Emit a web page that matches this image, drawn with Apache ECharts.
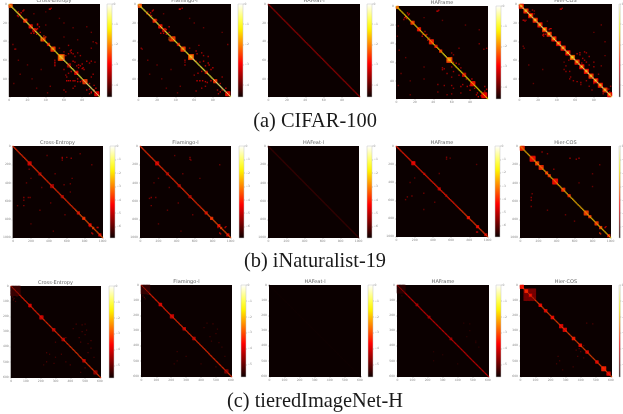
<!DOCTYPE html>
<html><head><meta charset="utf-8">
<script src="https://cdn.jsdelivr.net/npm/echarts@6/dist/echarts.min.js"></script>
<style>html,body{margin:0;padding:0;background:#fff}#c{width:623px;height:414px}</style>
</head><body><div id="c"></div>
<script>
const methodTitles = ['Cross-Entropy','Flamingo-l','HAFeat-l','HAFrame','Hier-COS'];
const captions = ['(a) CIFAR-100','(b) iNaturalist-19','(c) tieredImageNet-H'];
const xTicksA = [0,20,40,60,80], xTicksB = [0,200,400,600,800,1000], xTicksC = [0,100,200,300,400,500,600];
const barTicksA = [0,-1,-2,-3,-4], barTicksB = [0,-1,-2,-3,-4,-5,-6], barTicksC = [0,-1,-2,-3,-4,-5];

// [first, last, log value] runs along the diagonal
const ceA_diag = [[0,14,-1.0],[15,30,-0.9],[31,55,-1.1],[56,60,-0.5],[61,80,-0.9],[81,99,-0.6]];
// [first, last, log value] square blocks on the diagonal
const ceA_blocks = [[0,3,-2.4],[16,19,-2.6],[22,25,-2.8],[26,29,-3.2],[36,39,-2.5],[42,44,-3.0],[46,50,-2.6],[47,49,-2.1],[54,60,-2.4],[55,59,-1.8],[64,67,-3.4],[72,75,-3.0],[81,85,-2.5],[94,98,-3.0]];
// [row, col, log value] single cells
const ceA_cells = [[5,44,-3.1],[5,45,-3.0],[4,46,-3.4],[8,10,-3.0],[9,13,-2.9],[10,11,-3.1],[11,12,-2.8],[12,9,-3.0],[13,10,-3.2],[7,15,-3.0],[6,16,-3.2],[14,13,-3.0],[31,27,-2.9],[32,30,-2.8],[33,33,-3.0],[31,24,-3.0],[30,34,-3.0],[26,31,-3.0],[27,30,-2.8],[24,33,-3.1],[21,31,-3.0],[22,31,-3.0],[36,35,-2.1],[37,35,-2.0],[38,35,-2.0],[39,35,-2.2],[34,38,-2.6],[36,39,-2.5],[35,40,-2.6],[48,6,-3.4],[48,7,-3.5],[43,4,-3.6],[44,65,-3.3],[53,65,-3.2],[53,70,-3.2],[55,62,-3.2],[52,75,-3.4],[47,55,-3.4],[50,67,-3.2],[51,60,-3.3],[49,68,-3.3],[52,68,-3.2],[56,72,-3.3],[55,78,-3.3],[47,90,-3.5],[40,92,-3.6],[41,95,-3.5],[42,96,-3.6],[62,50,-3.2],[63,50,-3.3],[60,50,-3.3],[65,50,-3.2],[66,50,-3.3],[61,70,-3.0],[62,72,-3.0],[61,85,-3.2],[61,90,-3.2],[63,88,-3.2],[62,94,-3.3],[64,80,-3.1],[65,76,-3.0],[66,78,-3.1],[66,74,-3.0],[68,76,-3.0],[68,81,-3.1],[69,80,-3.0],[70,82,-3.1],[70,60,-3.3],[72,68,-3.1],[74,65,-3.3],[76,62,-3.3],[78,63,-3.4],[82,63,-3.0],[82,65,-2.9],[82,67,-3.0],[82,70,-2.9],[82,72,-2.9],[83,75,-3.0],[82,80,-2.8],[83,78,-2.9],[80,75,-3.0],[78,90,-3.3],[75,92,-3.3],[85,88,-3.1],[88,72,-3.3],[90,70,-3.3],[92,60,-3.3],[94,62,-3.4],[92,85,-3.0],[91,88,-3.1],[94,90,-3.0],[95,90,-3.0],[96,88,-3.1],[92,93,-2.9],[90,95,-3.0],[87,93,-3.1],[17,20,-3.8],[10,27,-3.8],[8,40,-3.9],[20,60,-3.8],[24,85,-3.8],[25,70,-3.8],[30,90,-3.7],[35,60,-3.8],[38,75,-3.8],[60,10,-3.7],[65,20,-3.8],[70,35,-3.8],[75,12,-3.8],[80,25,-3.7],[85,5,-3.8],[90,30,-3.8],[95,42,-3.7],[88,45,-3.6],[15,55,-3.8],[22,40,-3.8]];

const flA_diag = [[0,14,-1.0],[15,30,-0.9],[31,55,-1.0],[56,60,-0.6],[61,80,-0.9],[81,99,-0.6]];
const flA_blocks = [[0,3,-2.4],[16,19,-2.7],[22,25,-2.8],[26,29,-3.3],[35,39,-2.5],[42,44,-3.1],[46,50,-2.6],[47,49,-2.1],[54,59,-2.4],[55,58,-1.8],[72,74,-3.2],[81,84,-2.6],[94,98,-2.8]];
const flA_cells = [[5,44,-3.1],[5,45,-3.0],[4,47,-3.3],[8,10,-3.1],[9,13,-2.9],[10,9,-3.0],[11,12,-2.9],[12,14,-3.0],[7,15,-3.0],[6,16,-3.2],[31,27,-2.9],[32,30,-2.9],[31,24,-3.0],[30,33,-3.0],[27,30,-2.9],[24,33,-3.1],[36,33,-2.4],[38,33,-2.3],[39,34,-2.4],[48,4,-3.4],[47,3,-3.5],[44,65,-3.4],[50,62,-3.3],[53,63,-3.2],[52,68,-3.3],[55,70,-3.3],[47,55,-3.5],[56,75,-3.3],[43,96,-3.6],[60,50,-3.3],[62,50,-3.3],[65,50,-3.3],[61,62,-3.0],[62,66,-3.0],[61,70,-3.1],[63,75,-3.1],[65,76,-3.1],[66,72,-3.0],[68,80,-3.1],[70,78,-3.1],[72,68,-3.1],[74,64,-3.3],[76,60,-3.3],[82,63,-3.0],[82,66,-3.0],[82,69,-3.0],[83,72,-3.0],[82,78,-2.9],[84,74,-3.2],[78,90,-3.4],[85,88,-3.1],[88,72,-3.3],[90,68,-3.3],[93,62,-3.4],[92,85,-3.1],[92,90,-2.9],[94,88,-3.0],[96,86,-3.2],[90,94,-3.0],[17,20,-3.8],[10,27,-3.8],[20,60,-3.8],[25,70,-3.8],[30,90,-3.8],[60,10,-3.7],[65,20,-3.8],[70,35,-3.8],[75,12,-3.8],[80,25,-3.7],[90,30,-3.8],[95,42,-3.8],[88,45,-3.7],[15,55,-3.8]];

const hfA_diag = [[0,99,-3.6]];
const hfA_blocks = [];
const hfA_cells = [];

const frA_diag = [[0,20,-1.4],[21,50,-1.5],[51,60,-1.1],[61,99,-1.3]];
const frA_blocks = [[0,2,-2.3],[16,19,-2.6],[23,26,-2.8],[36,40,-2.7],[42,44,-3.0],[47,49,-2.6],[55,60,-2.5],[56,59,-1.9],[72,75,-3.2],[81,85,-2.8],[93,98,-2.9]];
const frA_cells = [[5,44,-3.0],[5,45,-3.0],[4,46,-3.3],[7,12,-3.0],[9,13,-2.9],[11,10,-2.9],[12,9,-2.9],[13,11,-3.0],[14,8,-3.3],[8,14,-3.2],[30,29,-3.0],[31,32,-3.0],[32,28,-3.0],[30,33,-3.1],[27,31,-3.1],[36,34,-2.9],[34,36,-3.1],[47,3,-3.7],[21,2,-3.7],[32,1,-3.7],[52,62,-3.5],[50,60,-3.5],[45,68,-3.6],[46,95,-3.6],[45,98,-3.5],[60,62,-3.1],[61,65,-3.1],[62,68,-3.0],[66,50,-3.2],[67,52,-3.3],[68,50,-3.3],[65,60,-3.2],[70,62,-3.2],[72,55,-3.3],[76,60,-3.4],[68,68,-3.0],[66,70,-3.1],[74,68,-3.2],[75,72,-3.0],[78,76,-3.0],[78,82,-3.1],[85,60,-3.3],[85,52,-3.4],[84,45,-3.5],[86,70,-3.2],[84,72,-3.2],[86,77,-3.1],[85,80,-3.1],[88,62,-3.4],[88,85,-3.0],[90,80,-3.1],[90,90,-2.9],[93,88,-3.0],[95,87,-3.0],[96,92,-2.9],[97,89,-2.9],[94,96,-2.9],[91,96,-3.0],[89,98,-3.1],[86,96,-3.3],[93,70,-3.5],[95,55,-3.6],[94,60,-3.5],[92,45,-3.6],[80,15,-3.8],[78,30,-3.8],[72,5,-3.7],[85,2,-3.7],[95,15,-3.8],[15,50,-3.8],[20,75,-3.8],[25,90,-3.8],[12,30,-3.8],[55,10,-3.8],[65,30,-3.8],[40,90,-3.6]];

const hcA_diag = [[0,99,-0.7]];
const hcA_blocks = [[0,4,-2.8],[5,9,-2.7],[10,14,-2.8],[15,19,-2.7],[20,24,-2.8],[25,29,-2.6],[30,34,-2.7],[35,39,-2.8],[40,44,-2.9],[45,49,-2.8],[50,54,-2.9],[55,59,-2.3],[60,64,-2.8],[65,69,-2.9],[70,74,-2.9],[75,79,-2.7],[80,84,-2.9],[85,89,-2.8],[90,94,-2.7],[95,99,-2.9],
 [1,3,-1.9],[6,8,-1.8],[11,13,-1.8],[16,18,-1.8],[21,23,-1.9],[26,28,-1.7],[31,33,-1.8],[36,38,-1.9],[41,43,-1.9],[46,48,-1.9],[51,53,-1.9],[56,58,-1.4],[61,63,-1.9],[66,68,-1.9],[71,73,-1.9],[76,78,-1.8],[81,83,-1.9],[86,88,-1.9],[91,93,-1.8],[96,98,-1.9]];
const hcA_cells = [[5,44,-3.2],[5,45,-3.1],[4,46,-3.4],[6,14,-3.4],[7,16,-3.5],[17,4,-3.3],[17,5,-3.3],[17,7,-3.4],[18,6,-3.4],[8,11,-3.4],[10,16,-3.5],[26,33,-3.0],[26,34,-3.0],[27,32,-3.1],[32,26,-2.8],[32,28,-2.9],[33,25,-2.9],[34,26,-3.0],[53,62,-3.2],[52,65,-3.2],[51,70,-3.2],[54,65,-3.3],[52,72,-3.3],[58,68,-3.2],[56,75,-3.2],[60,70,-3.2],[62,72,-3.2],[63,67,-3.2],[65,75,-3.4],[62,80,-3.2],[67,80,-3.3],[66,50,-3.2],[70,48,-3.5],[72,50,-3.4],[72,54,-3.4],[60,53,-3.5],[62,48,-3.6],[45,4,-3.7],[47,5,-3.6],[78,55,-3.4],[80,54,-3.3],[82,58,-3.3],[83,62,-3.2],[84,66,-3.3],[82,72,-3.3],[86,66,-3.5],[85,80,-3.3],[88,75,-3.4],[92,78,-3.5],[94,97,-3.2],[91,96,-3.2],[88,98,-3.3],[92,90,-3.3],[96,90,-3.3],[40,92,-3.7],[22,88,-3.7],[30,80,-3.8],[55,92,-3.7],[70,25,-3.8],[85,15,-3.8],[65,10,-3.8],[18,30,-3.8],[75,85,-3.5],[66,88,-3.6]];

const ceB_diag = [[0,700,-3.9],[701,1009,-3.5]];
const ceB_blocks = [[170,200,-4.7],[290,310,-5.2],[420,450,-5.2],[540,560,-5.2],[720,740,-4.7],[780,800,-3.9],[850,870,-4.4],[890,900,-3.8],[960,980,-4.6]];
const ceB_cells = [[120,550,-5.1],[130,550,-5.1],[150,550,-5.2],[120,600,-5.2],[130,655,-5.1],[250,180,-5.4],[560,125,-5.1],[560,190,-5.2],[650,125,-5.2],[560,170,-5.4],[590,120,-5.4],[890,940,-4.6],[890,950,-4.7],[950,880,-4.5],[960,890,-4.6],[880,860,-4.7],[100,380,-5.6],[300,470,-5.6],[350,200,-5.6],[450,320,-5.6],[500,640,-5.6],[620,420,-5.6],[650,50,-5.6],[700,300,-5.6],[750,580,-5.6],[80,750,-5.6],[200,880,-5.6],[350,660,-5.5],[410,640,-5.5],[420,570,-5.5],[400,150,-5.6],[850,200,-5.7],[930,450,-5.7]];

const flB_diag = [[0,700,-3.9],[701,1009,-3.5]];
const flB_blocks = [[170,200,-4.7],[290,310,-5.2],[420,440,-5.2],[540,560,-5.2],[720,740,-4.7],[780,800,-3.9],[860,880,-4.4],[890,900,-3.9],[960,980,-4.6]];
const flB_cells = [[120,550,-5.2],[140,550,-5.2],[150,560,-5.3],[560,125,-5.1],[560,170,-5.4],[570,100,-5.4],[650,125,-5.3],[890,940,-4.7],[880,950,-4.8],[950,880,-4.6],[960,890,-4.7],[890,860,-4.8],[300,470,-5.6],[350,200,-5.6],[450,320,-5.6],[620,420,-5.6],[700,300,-5.6],[750,580,-5.6],[200,880,-5.6],[350,660,-5.6],[400,150,-5.6],[850,200,-5.7],[930,450,-5.7],[100,380,-5.6]];

const hfB_diag = [[0,1009,-6.3]];
const hfB_blocks = [];
const hfB_cells = [];

const frB_diag = [[0,700,-4.1],[701,1009,-3.8]];
const frB_blocks = [[175,205,-4.5],[300,310,-5.1],[460,480,-5.0],[540,550,-5.1],[780,800,-4.2],[880,900,-4.4],[970,990,-4.8]];
const frB_cells = [[120,550,-5.3],[140,550,-5.4],[130,590,-5.5],[560,120,-5.4],[550,170,-5.4],[590,100,-5.5],[950,880,-4.6],[955,890,-4.7],[300,470,-5.7],[350,200,-5.7],[620,420,-5.7],[700,300,-5.7],[520,300,-5.6],[200,880,-5.7],[400,150,-5.7]];

const hcB_diag = [[0,700,-2.4],[701,1009,-2.3]];
const hcB_blocks = [[0,40,-3.9],[110,165,-4.2],[170,205,-3.7],[210,250,-3.9],[280,300,-3.9],[310,330,-4.0],[360,410,-4.2],[465,490,-3.9],[530,550,-4.1],[710,750,-3.7],[760,780,-3.8],[830,860,-3.8],[880,900,-3.7],[970,990,-4.2]];
const hcB_cells = [[130,550,-4.9],[140,620,-5.0],[130,650,-5.0],[60,240,-5.0],[80,300,-5.2],[250,370,-5.2],[560,120,-5.1],[590,120,-5.2],[520,130,-5.4],[660,120,-5.3],[950,880,-3.8],[960,890,-3.9],[890,940,-4.5],[880,950,-4.7],[700,300,-5.5],[750,500,-5.5],[820,600,-5.5],[300,800,-5.6],[400,650,-5.5],[440,800,-5.6],[200,880,-5.6]];

const ceC_diag = [[0,200,-3.4],[201,400,-3.3],[401,607,-3.2]];
const ceC_blocks = [[0,60,-5.35],[120,135,-3.9],[195,215,-4.1],[280,295,-4.2],[345,360,-4.3],[485,500,-4.2],[560,580,-4.6]];
const ceC_cells = [[70,10,-5.0],[80,20,-5.1],[90,15,-5.1],[100,30,-5.1],[65,40,-5.1],[250,440,-5.0],[255,480,-5.0],[250,500,-5.1],[280,420,-5.1],[290,510,-5.0],[300,480,-5.0],[320,500,-5.1],[340,460,-5.0],[360,540,-5.0],[370,470,-5.0],[380,520,-5.1],[440,240,-5.0],[450,260,-5.1],[470,300,-5.1],[500,240,-5.0],[510,290,-5.1],[520,220,-5.2],[410,540,-5.0],[440,520,-5.0],[470,560,-5.1],[520,400,-5.0],[540,500,-4.9],[570,470,-5.1],[450,340,-5.0],[500,370,-5.1],[340,370,-4.8],[370,300,-5.0]];

const flC_diag = [[0,200,-3.4],[201,400,-3.3],[401,607,-3.3]];
const flC_blocks = [[0,55,-5.4],[120,135,-3.9],[195,215,-4.1],[280,295,-4.2],[345,360,-4.3],[560,580,-4.7]];
const flC_cells = [[70,10,-5.1],[80,20,-5.1],[90,25,-5.2],[60,45,-5.2],[250,440,-5.2],[255,480,-5.1],[280,420,-5.2],[290,510,-5.2],[320,500,-5.2],[340,460,-5.2],[370,470,-5.2],[380,520,-5.2],[440,240,-5.2],[470,300,-5.2],[500,240,-5.2],[520,220,-5.2],[410,540,-5.2],[470,560,-5.2],[520,400,-5.2],[540,500,-5.1]];

const hfC_diag = [[0,607,-5.75]];
const hfC_blocks = [];
const hfC_cells = [];

const frC_diag = [[0,607,-4.0]];
const frC_blocks = [[0,50,-5.5],[125,135,-4.4],[205,215,-4.5],[350,360,-4.5]];
const frC_cells = [[70,30,-5.3],[250,440,-5.4],[255,480,-5.4],[300,480,-5.4],[340,460,-5.4],[380,520,-5.4],[440,240,-5.4],[500,240,-5.4],[410,540,-5.4],[520,400,-5.4],[460,300,-5.4],[370,520,-5.4]];

const hcC_diag = [[0,607,-3.1]];
const hcC_blocks = [[25,100,-4.8],[0,20,-3.6],[30,50,-3.4],[60,75,-3.6],[125,140,-3.7],[160,175,-3.9],[205,220,-3.7],[260,280,-3.9],[285,305,-3.9],[345,360,-3.5],[390,405,-3.6],[435,450,-3.9],[500,515,-3.9],[540,565,-3.4],[575,595,-3.8]];
const hcC_cells = [[250,440,-5.0],[255,480,-5.0],[500,260,-5.1],[520,240,-5.1],[470,250,-5.1],[420,390,-4.9],[440,400,-5.0],[470,380,-5.0],[400,420,-5.0],[540,350,-5.1],[560,280,-5.2],[430,370,-5.0],[480,420,-5.1]];

const rowData = [
 [[ceA_diag,ceA_blocks,ceA_cells],[flA_diag,flA_blocks,flA_cells],[hfA_diag,hfA_blocks,hfA_cells],[frA_diag,frA_blocks,frA_cells],[hcA_diag,hcA_blocks,hcA_cells]],
 [[ceB_diag,ceB_blocks,ceB_cells],[flB_diag,flB_blocks,flB_cells],[hfB_diag,hfB_blocks,hfB_cells],[frB_diag,frB_blocks,frB_cells],[hcB_diag,hcB_blocks,hcB_cells]],
 [[ceC_diag,ceC_blocks,ceC_cells],[flC_diag,flC_blocks,flC_cells],[hfC_diag,hfC_blocks,hfC_cells],[frC_diag,frC_blocks,frC_cells],[hcC_diag,hcC_blocks,hcC_cells]]
];
const rowMeta = [
 {classes:100,bin:1,ticks:xTicksA,bar:barTicksA,low:-4.6},
 {classes:1010,bin:10,ticks:xTicksB,bar:barTicksB,low:-6.85},
 {classes:610,bin:5,ticks:xTicksC,bar:barTicksC,low:-5.8}
];
// layout: [plot left, plot top, plot size w, plot size h, colorbar left, title y]
const layout = [
 [[8,4,92,93,107,1],[138,4,93,93,238,1],[268,4,92,93,367,1],[396,6,92,93,496,3],[519,4,93,93,619,1]],
 [[12,146,91,92,110,143],[140,146,91,92,239,143],[268,146,91,92,367,143],[396,146,92,91,495,143],[520,146,91,92,619,143]],
 [[10,286,91,92,109,283],[141,285,91,92,241,282],[269,285,92,92,368,282],[397,285,92,92,496,282],[520,285,92,92,619,282]]
];
const hot = ['#0b0000','#470000','#850000','#c10000','#ff0000','#ff3c00','#ff7900','#ffb500','#fff200','#ffff48','#ffffa4','#ffffff'];
const BG = '#0b0000', TICK = '#8a8a8a';
const barFill = {type:'linear',x:0,y:1,x2:0,y2:0,colorStops:hot.map((c,i)=>({offset:i/(hot.length-1),color:c}))};

function expand(panel, bin) {
  const [diag, blocks, cells] = panel;
  const m = new Map();
  const put = (r,c,v) => m.set(Math.floor(r/bin)+','+Math.floor(c/bin), v);
  for (const [s,e,v] of blocks) {
    for (let r=Math.floor(s/bin); r<=Math.floor(e/bin); r++)
      for (let c=Math.floor(s/bin); c<=Math.floor(e/bin); c++) put(r*bin,c*bin,v);
  }
  for (const [r,c,v] of cells) put(r,c,v);
  for (const [s,e,v] of diag) {
    for (let i=Math.floor(s/bin); i<=Math.floor(e/bin); i++) put(i*bin,i*bin,v);
  }
  const out = [];
  m.forEach((v,k)=>{ const [r,c]=k.split(',').map(Number); out.push([c,r,v]); });
  return out;
}

const opt = {animation:false,backgroundColor:'#fff',title:[],grid:[],xAxis:[],yAxis:[],series:[],visualMap:[]};
captions.forEach((t,i)=>opt.title.push({text:t,left:315,top:[122,262,402][i],textAlign:'center',textVerticalAlign:'middle',padding:0,
  textStyle:{fontFamily:'Liberation Serif',fontSize:20.4,fontWeight:'normal',color:'#1a1a1a'}}));

rowMeta.forEach((meta,ri)=>{
  const n = Math.ceil(meta.classes/meta.bin);
  const cats = []; for(let i=0;i<n;i++) cats.push(String(i*meta.bin));
  layout[ri].forEach((g,pi)=>{
    const [x,y,w,h,cx,ty] = g;
    opt.title.push({text:methodTitles[pi],left:x+w/2,top:ty,textAlign:'center',textVerticalAlign:'middle',padding:0,
      textStyle:{fontFamily:'DejaVu Sans',fontSize:5,fontWeight:'normal',color:'#666'}});
    const gi = opt.grid.length;
    opt.grid.push({left:x,top:y,width:w,height:h,show:true,backgroundColor:BG,borderWidth:0});
    const tickAt = v => Number(v)%(meta.ticks[1])===0;
    const axisCommon = {type:'category',data:cats,gridIndex:gi,
      axisLine:{show:false},splitLine:{show:false},
      axisTick:{show:true,length:1,alignWithLabel:true,interval:(idx,v)=>tickAt(v),lineStyle:{color:TICK,width:.4}},
      axisLabel:{fontSize:3,color:TICK,margin:2,interval:(idx,v)=>tickAt(v),fontFamily:'DejaVu Sans',hideOverlap:false}};
    opt.xAxis.push(Object.assign({},axisCommon,{position:'bottom'}));
    opt.yAxis.push(Object.assign({},axisCommon,{inverse:true,position:'left'}));
    const si = opt.series.length;
    opt.series.push({type:'heatmap',xAxisIndex:gi,yAxisIndex:gi,data:expand(rowData[ri][pi],meta.bin),progressive:0,silent:true,itemStyle:{borderWidth:0,opacity:.74}});
    opt.visualMap.push({type:'continuous',show:false,seriesIndex:si,dimension:2,min:meta.low,max:0,inRange:{color:hot},outOfRange:{color:BG}});
    // colorbar: gradient-filled grid with its tick axis
    const bi = opt.grid.length;
    opt.grid.push({left:cx,top:y,width:5,height:h,show:true,backgroundColor:barFill,borderColor:'#c4c4c4',borderWidth:.5});
    opt.xAxis.push({type:'category',gridIndex:bi,data:[''],show:false});
    opt.yAxis.push({type:'value',gridIndex:bi,min:meta.low,max:0,position:'right',splitLine:{show:false},axisLine:{show:false},
      axisTick:{show:true,length:1,customValues:meta.bar,lineStyle:{color:TICK,width:.4}},
      axisLabel:{fontSize:3,color:TICK,margin:1.5,customValues:meta.bar,fontFamily:'DejaVu Sans',showMinLabel:true,showMaxLabel:true,hideOverlap:false,formatter:v=>String(v).replace('-','\u2212')}});
  });
});
echarts.init(document.getElementById('c'),null,{renderer:'canvas'}).setOption(opt);
</script></body></html>
